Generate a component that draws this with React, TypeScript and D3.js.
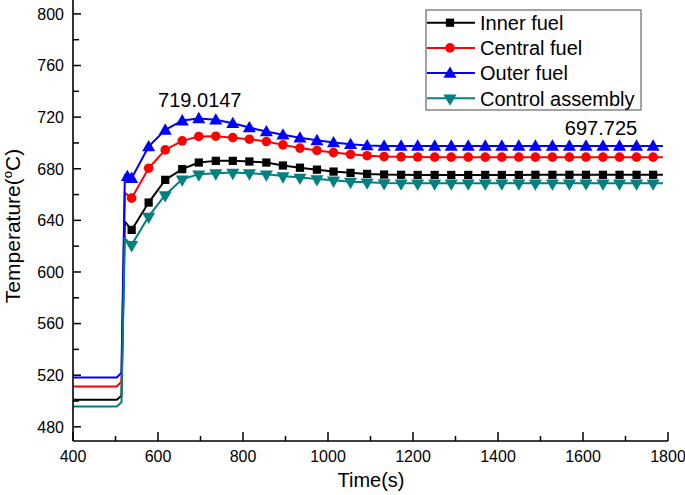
import React from "react";
import * as d3 from "d3";

// ---- data ----
const preTimes = [400, 503, 514, 522];
const markerTimes = [
  538, 578, 617, 657, 696, 736, 776, 815, 855, 894, 934, 974, 1013, 1053, 1092, 1132,
  1172, 1211, 1251, 1290, 1330, 1370, 1409, 1449, 1488, 1528, 1568, 1607, 1647, 1686, 1726, 1765,
];
const endTime = 1788;

const innerPre = [500.9, 500.9, 504, 639];
const innerVals = [
  632.6, 653.8, 671.4, 679.7, 684.8, 686.1, 686.1, 685.6, 684.8, 682.5, 680.8, 679.3, 677.8, 676.8, 676.0, 675.5,
  675.3, 675.2, 675.2, 675.2, 675.2, 675.2, 675.2, 675.2, 675.3, 675.3, 675.3, 675.3, 675.3, 675.3, 675.3, 675.3,
];
const centralPre = [511.2, 511.2, 515, 661.3];
const centralVals = [
  657.2, 680.4, 694.6, 701.6, 705.0, 705.2, 704.1, 702.9, 701.1, 698.5, 696.0, 694.2, 692.5, 691.2, 690.1, 689.4,
  689.2, 689.1, 689.0, 689.0, 689.0, 689.0, 689.0, 689.0, 689.0, 689.0, 689.0, 689.0, 689.0, 689.0, 689.0, 689.0,
];
const outerPre = [518.2, 518.2, 522, 675.2];
const outerExtra = [[528, 674.2]];
const outerVals = [
  672.7, 697.2, 710.1, 717.3, 719.0, 717.9, 715.3, 711.9, 708.8, 706.3, 704.0, 702.0, 700.3, 699.0, 698.0, 697.7,
  697.7, 697.7, 697.7, 697.7, 697.7, 697.7, 697.7, 697.7, 697.7, 697.7, 697.7, 697.7, 697.7, 697.7, 697.7, 697.7,
];
const controlPre = [495.7, 495.7, 499, 626];
const controlVals = [
  621.0, 643.0, 659.7, 671.9, 675.8, 676.6, 677.0, 676.6, 675.8, 674.3, 673.2, 672.0, 671.0, 670.0, 669.5, 669.0,
  668.8, 668.8, 668.8, 668.8, 668.8, 668.8, 668.8, 668.8, 668.8, 668.8, 668.8, 668.8, 668.8, 668.8, 668.8, 668.8,
];

const seriesNames = ["Inner fuel", "Central fuel", "Outer fuel", "Control assembly"];
const xTicks = [400, 600, 800, 1000, 1200, 1400, 1600, 1800];
const xMinor = [500, 700, 900, 1100, 1300, 1500, 1700];
const yTicks = [480, 520, 560, 600, 640, 680, 720, 760, 800];
const yMinor = [500, 540, 580, 620, 660, 700, 740, 780];
const annotations = [
  { text: "719.0147", t: 696, v: 719.0147 },
  { text: "697.725", t: 1640, v: 697.725 },
];

// ---- layout ----
const W = 685, H = 495;
const x = d3.scaleLinear().domain([400, 1800]).range([73, 668]);
const y = d3.scaleLinear().domain([469, 810]).range([441, 1]);
const FONT = "'Liberation Sans', Arial, sans-serif";

type Series = {
  name: string; color: string; shape: string;
  pre: number[]; vals: number[]; extra: number[][];
};

const series: Series[] = [
  { name: seriesNames[0], color: "#000000", shape: "square", pre: innerPre, vals: innerVals, extra: [] },
  { name: seriesNames[1], color: "#ff0000", shape: "circle", pre: centralPre, vals: centralVals, extra: [] },
  { name: seriesNames[2], color: "#0000ff", shape: "up", pre: outerPre, vals: outerVals, extra: outerExtra },
  { name: seriesNames[3], color: "#008080", shape: "down", pre: controlPre, vals: controlVals, extra: [] },
];

const symPath = (shape: string) => {
  if (shape === "square") return d3.symbol(d3.symbolSquare, 68)()!;
  if (shape === "circle") return d3.symbol(d3.symbolCircle, 72)()!;
  return d3.symbol(d3.symbolTriangle, 74)()!;
};

const Marker = ({ shape, color, cx, cy }: { shape: string; color: string; cx: number; cy: number }) => (
  <path
    d={symPath(shape)}
    fill={color}
    transform={`translate(${cx},${cy})${shape === "down" ? " rotate(180)" : shape === "up" ? " translate(0,1)" : ""}`}
  />
);

export default function App() {
  const line = d3.line<[number, number]>().x((d) => x(d[0])).y((d) => y(d[1]));
  return (
    <svg width={W} height={H} style={{ position: "absolute", left: 0, top: 0, background: "#fff" }} fontFamily={FONT}>
      <rect width={W} height={H} fill="#fff" />
      {/* series */}
      {series.map((s) => {
        const pts: [number, number][] = [
          ...s.pre.map((v, i) => [preTimes[i], v] as [number, number]),
          ...s.extra.map((p) => [p[0], p[1]] as [number, number]),
          ...s.vals.map((v, i) => [markerTimes[i], v] as [number, number]),
          [endTime, s.vals[s.vals.length - 1]],
        ];
        const marks: [number, number][] = [
          ...s.extra.map((p) => [p[0], p[1]] as [number, number]),
          ...s.vals.map((v, i) => [markerTimes[i], v] as [number, number]),
        ];
        return (
          <g key={s.name}>
            <path d={line(pts)!} fill="none" stroke={s.color} strokeWidth={2} strokeLinejoin="round" />
            {marks.map((m, i) => (
              <Marker key={i} shape={s.shape} color={s.color} cx={x(m[0])} cy={y(m[1])} />
            ))}
          </g>
        );
      })}
      {/* axes */}
      <line x1={x(400)} x2={x(1800)} y1={y.range()[0]} y2={y.range()[0]} stroke="#000" strokeWidth={1.6} />
      <line x1={x(400)} x2={x(400)} y1={y.range()[0]} y2={y.range()[1] - 1} stroke="#000" strokeWidth={1.6} />
      {xTicks.map((t) => (
        <g key={t}>
          <line x1={x(t)} x2={x(t)} y1={441} y2={432} stroke="#000" strokeWidth={1.5} />
          <text x={x(t)} y={462} textAnchor="middle" fontSize={16}>{t}</text>
        </g>
      ))}
      {xMinor.map((t) => (
        <line key={t} x1={x(t)} x2={x(t)} y1={441} y2={436} stroke="#000" strokeWidth={1.5} />
      ))}
      {yTicks.map((t) => (
        <g key={t}>
          <line x1={73} x2={81} y1={y(t)} y2={y(t)} stroke="#000" strokeWidth={1.5} />
          <text x={64} y={y(t)} dy="0.36em" textAnchor="end" fontSize={16}>{t}</text>
        </g>
      ))}
      {yMinor.map((t) => (
        <line key={t} x1={73} x2={79} y1={y(t)} y2={y(t)} stroke="#000" strokeWidth={1.5} />
      ))}
      <text x={371} y={487} textAnchor="middle" fontSize={20}>Time(s)</text>
      <text transform="translate(20,226) rotate(-90)" textAnchor="middle" fontSize={21}>
        Temperature(<tspan fontSize={13} dy={-8}>o</tspan><tspan dy={8}>C)</tspan>
      </text>
      {/* annotations */}
      {annotations.map((a) => (
        <text key={a.text} x={x(a.t) + 1} y={y(a.v) - 11} textAnchor="middle" fontSize={20}>
          {a.text}
        </text>
      ))}
      {/* legend */}
      <rect x={426} y={10} width={215} height={100} fill="#fff" stroke="#666" strokeWidth={1.2} />
      {series.map((s, i) => {
        const cy = 22.7 + i * 25.2;
        return (
          <g key={s.name}>
            <line x1={427} x2={475} y1={cy} y2={cy} stroke={s.color} strokeWidth={2} />
            <Marker shape={s.shape} color={s.color} cx={450} cy={cy} />
            <text x={480} y={cy} dy="0.36em" fontSize={20}>{s.name}</text>
          </g>
        );
      })}
    </svg>
  );
}
